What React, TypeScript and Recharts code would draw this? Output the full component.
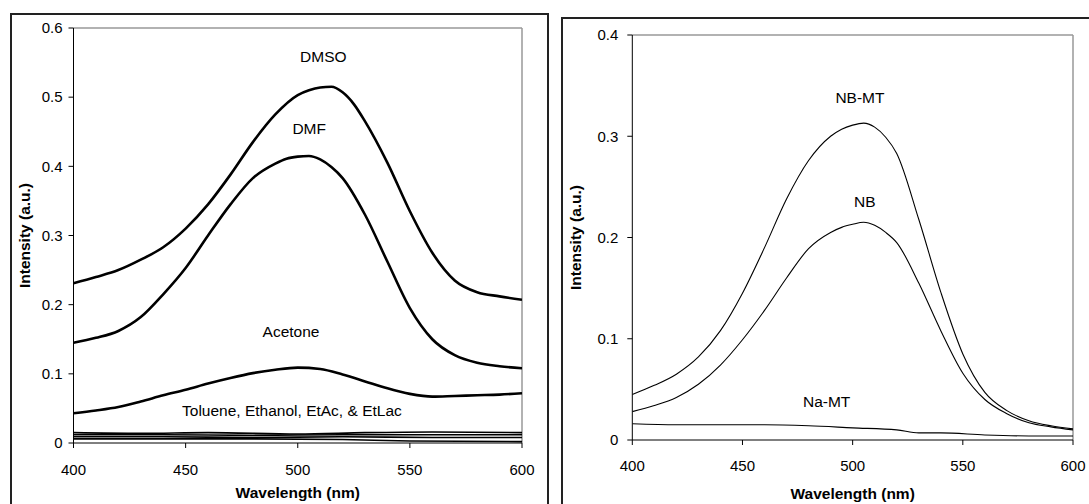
import React from "react";
import { LineChart, Line, XAxis, YAxis, ReferenceLine, ReferenceDot } from "recharts";

// left panel: solvents
const dmso = [
  { nm: 400, v: 0.231 }, { nm: 410, v: 0.24 }, { nm: 420, v: 0.25 }, { nm: 430, v: 0.265 },
  { nm: 440, v: 0.283 }, { nm: 450, v: 0.31 }, { nm: 460, v: 0.345 }, { nm: 470, v: 0.388 },
  { nm: 480, v: 0.435 }, { nm: 490, v: 0.475 }, { nm: 500, v: 0.503 }, { nm: 505, v: 0.51 },
  { nm: 510, v: 0.514 }, { nm: 515, v: 0.515 }, { nm: 520, v: 0.507 }, { nm: 525, v: 0.49 },
  { nm: 530, v: 0.465 }, { nm: 540, v: 0.405 }, { nm: 550, v: 0.335 }, { nm: 560, v: 0.275 },
  { nm: 570, v: 0.235 }, { nm: 580, v: 0.218 }, { nm: 590, v: 0.212 }, { nm: 600, v: 0.207 },
];
const dmf = [
  { nm: 400, v: 0.145 }, { nm: 410, v: 0.152 }, { nm: 420, v: 0.162 }, { nm: 430, v: 0.182 },
  { nm: 440, v: 0.215 }, { nm: 450, v: 0.253 }, { nm: 460, v: 0.3 }, { nm: 470, v: 0.345 },
  { nm: 480, v: 0.383 }, { nm: 490, v: 0.404 }, { nm: 495, v: 0.411 }, { nm: 500, v: 0.414 },
  { nm: 505, v: 0.415 }, { nm: 510, v: 0.41 }, { nm: 515, v: 0.399 }, { nm: 520, v: 0.383 },
  { nm: 530, v: 0.33 }, { nm: 540, v: 0.262 }, { nm: 550, v: 0.195 }, { nm: 560, v: 0.15 },
  { nm: 570, v: 0.127 }, { nm: 580, v: 0.116 }, { nm: 590, v: 0.111 }, { nm: 600, v: 0.108 },
];
const acetone = [
  { nm: 400, v: 0.043 }, { nm: 410, v: 0.047 }, { nm: 420, v: 0.052 }, { nm: 430, v: 0.06 },
  { nm: 440, v: 0.069 }, { nm: 450, v: 0.077 }, { nm: 460, v: 0.086 }, { nm: 470, v: 0.094 },
  { nm: 480, v: 0.101 }, { nm: 490, v: 0.106 }, { nm: 500, v: 0.109 }, { nm: 510, v: 0.107 },
  { nm: 520, v: 0.099 }, { nm: 530, v: 0.089 }, { nm: 540, v: 0.079 }, { nm: 550, v: 0.071 },
  { nm: 560, v: 0.067 }, { nm: 570, v: 0.068 }, { nm: 580, v: 0.069 }, { nm: 590, v: 0.07 },
  { nm: 600, v: 0.072 },
];
const toluene = [
  { nm: 400, v: 0.015 }, { nm: 430, v: 0.014 }, { nm: 460, v: 0.015 }, { nm: 500, v: 0.013 },
  { nm: 530, v: 0.015 }, { nm: 560, v: 0.016 }, { nm: 600, v: 0.015 },
];
const ethanol = [
  { nm: 400, v: 0.012 }, { nm: 440, v: 0.012 }, { nm: 480, v: 0.011 }, { nm: 520, v: 0.012 },
  { nm: 560, v: 0.012 }, { nm: 600, v: 0.012 },
];
const etAc = [
  { nm: 400, v: 0.009 }, { nm: 440, v: 0.009 }, { nm: 480, v: 0.008 }, { nm: 520, v: 0.009 },
  { nm: 560, v: 0.008 }, { nm: 600, v: 0.008 },
];
const etLac = [
  { nm: 400, v: 0.006 }, { nm: 440, v: 0.006 }, { nm: 480, v: 0.006 }, { nm: 520, v: 0.005 },
  { nm: 550, v: 0.003 }, { nm: 600, v: 0.002 },
];

// right panel: clay samples
const nbMt = [
  { nm: 400, v: 0.045 }, { nm: 410, v: 0.054 }, { nm: 420, v: 0.065 }, { nm: 430, v: 0.082 },
  { nm: 440, v: 0.108 }, { nm: 450, v: 0.145 }, { nm: 460, v: 0.19 }, { nm: 470, v: 0.238 },
  { nm: 480, v: 0.276 }, { nm: 490, v: 0.3 }, { nm: 495, v: 0.307 }, { nm: 500, v: 0.311 },
  { nm: 505, v: 0.313 }, { nm: 510, v: 0.309 }, { nm: 515, v: 0.299 }, { nm: 520, v: 0.283 },
  { nm: 530, v: 0.218 }, { nm: 540, v: 0.146 }, { nm: 550, v: 0.085 }, { nm: 560, v: 0.047 },
  { nm: 570, v: 0.029 }, { nm: 580, v: 0.019 }, { nm: 590, v: 0.014 }, { nm: 600, v: 0.011 },
];
const nb = [
  { nm: 400, v: 0.028 }, { nm: 410, v: 0.034 }, { nm: 420, v: 0.042 }, { nm: 430, v: 0.055 },
  { nm: 440, v: 0.074 }, { nm: 450, v: 0.099 }, { nm: 460, v: 0.128 }, { nm: 470, v: 0.16 },
  { nm: 480, v: 0.189 }, { nm: 490, v: 0.205 }, { nm: 495, v: 0.21 }, { nm: 500, v: 0.213 },
  { nm: 505, v: 0.215 }, { nm: 510, v: 0.212 }, { nm: 515, v: 0.205 }, { nm: 520, v: 0.195 },
  { nm: 530, v: 0.155 }, { nm: 540, v: 0.108 }, { nm: 550, v: 0.066 }, { nm: 560, v: 0.04 },
  { nm: 570, v: 0.026 }, { nm: 580, v: 0.017 }, { nm: 590, v: 0.013 }, { nm: 600, v: 0.01 },
];
const naMt = [
  { nm: 400, v: 0.016 }, { nm: 420, v: 0.015 }, { nm: 440, v: 0.015 }, { nm: 460, v: 0.015 },
  { nm: 480, v: 0.014 }, { nm: 500, v: 0.012 }, { nm: 520, v: 0.01 }, { nm: 530, v: 0.007 },
  { nm: 540, v: 0.007 }, { nm: 560, v: 0.005 }, { nm: 580, v: 0.004 }, { nm: 600, v: 0.004 },
];

const xTicks = [400, 450, 500, 550, 600];
const leftYTicks = [0, 0.1, 0.2, 0.3, 0.4, 0.5, 0.6];
const rightYTicks = [0, 0.1, 0.2, 0.3, 0.4];

const leftNotes = [
  { text: "DMSO", nm: 511.4, v: 0.5595 },
  { text: "DMF", nm: 505.1, v: 0.455 },
  { text: "Acetone", nm: 497, v: 0.1605 },
  { text: "Toluene, Ethanol, EtAc, & EtLac", nm: 497.4, v: 0.0467 },
];
const rightNotes = [
  { text: "NB-MT", nm: 503.3, v: 0.338 },
  { text: "NB", nm: 505.5, v: 0.236 },
  { text: "Na-MT", nm: 488.2, v: 0.0377 },
];

const font = "'Liberation Sans', Arial, sans-serif";
const tickStyle = { fill: "#000", fontSize: 15, fontFamily: font };
const titleStyle = { fill: "#000", fontSize: 15.5, fontWeight: "bold", fontFamily: font };

function note(n: { text: string; nm: number; v: number }) {
  return (
    <ReferenceDot
      key={n.text}
      x={n.nm}
      y={n.v}
      r={0}
      stroke="none"
      fill="none"
      label={{ value: n.text, position: "center", fill: "#000", fontSize: 15.5, fontFamily: font }}
    />
  );
}

export default function App() {
  return (
    <div style={{ position: "absolute", left: 0, top: 0, width: 1089, height: 504, overflow: "hidden", background: "#fff", fontFamily: font }}>
      <div style={{ position: "absolute", left: 10, top: 13, width: 535, height: 520, border: "2px solid #222" }} />
      <div style={{ position: "absolute", left: 561, top: 17, width: 560, height: 520, border: "2px solid #222" }} />

      <div style={{ position: "absolute", left: 0, top: 0 }}>
        <LineChart width={548} height={504} margin={{ top: 28, right: 26, bottom: 0, left: 0 }}>
          <XAxis
            dataKey="nm"
            type="number"
            domain={[400, 600]}
            ticks={xTicks}
            height={61}
            tickSize={5}
            tickMargin={16}
            tick={tickStyle}
            stroke="#000"
            allowDataOverflow
            label={{ value: "Wavelength (nm)", position: "insideBottom", offset: 6, style: titleStyle }}
          />
          <YAxis
            type="number"
            domain={[0, 0.6]}
            ticks={leftYTicks}
            width={73.5}
            tickSize={5}
            tickMargin={6}
            tick={tickStyle}
            stroke="#000"
            allowDataOverflow
            tickFormatter={(v: number) => String(v)}
            label={{ value: "Intensity (a.u.)", angle: -90, position: "insideLeft", offset: 24, style: { ...titleStyle, textAnchor: "middle" } }}
          />
          <ReferenceLine y={0.6} stroke="#999" strokeWidth={1.5} />
          <ReferenceLine x={600} stroke="#999" strokeWidth={1.5} />
          <Line data={dmso} dataKey="v" type="monotone" stroke="#000" strokeWidth={2.6} dot={false} isAnimationActive={false} />
          <Line data={dmf} dataKey="v" type="monotone" stroke="#000" strokeWidth={2.6} dot={false} isAnimationActive={false} />
          <Line data={acetone} dataKey="v" type="monotone" stroke="#000" strokeWidth={2.6} dot={false} isAnimationActive={false} />
          <Line data={toluene} dataKey="v" type="monotone" stroke="#000" strokeWidth={1.6} dot={false} isAnimationActive={false} />
          <Line data={ethanol} dataKey="v" type="monotone" stroke="#000" strokeWidth={1.6} dot={false} isAnimationActive={false} />
          <Line data={etAc} dataKey="v" type="monotone" stroke="#000" strokeWidth={1.6} dot={false} isAnimationActive={false} />
          <Line data={etLac} dataKey="v" type="monotone" stroke="#000" strokeWidth={1.6} dot={false} isAnimationActive={false} />
          {leftNotes.map(note)}
        </LineChart>
      </div>

      <div style={{ position: "absolute", left: 555, top: 0 }}>
        <LineChart width={534} height={504} margin={{ top: 35, right: 16, bottom: 0, left: 0 }}>
          <XAxis
            dataKey="nm"
            type="number"
            domain={[400, 600]}
            ticks={xTicks}
            height={64}
            tickSize={5}
            tickMargin={15}
            tick={tickStyle}
            stroke="#000"
            allowDataOverflow
            label={{ value: "Wavelength (nm)", position: "insideBottom", offset: 5, style: titleStyle }}
          />
          <YAxis
            type="number"
            domain={[0, 0.4]}
            ticks={rightYTicks}
            width={77.3}
            tickSize={5}
            tickMargin={9}
            tick={tickStyle}
            stroke="#000"
            allowDataOverflow
            tickFormatter={(v: number) => String(v)}
            label={{ value: "Intensity (a.u.)", angle: -90, position: "insideLeft", offset: 20, style: { ...titleStyle, textAnchor: "middle" } }}
          />
          <ReferenceLine y={0.4} stroke="#999" strokeWidth={1.5} />
          <ReferenceLine x={600} stroke="#999" strokeWidth={1.5} />
          <Line data={nbMt} dataKey="v" type="monotone" stroke="#000" strokeWidth={1.1} dot={false} isAnimationActive={false} />
          <Line data={nb} dataKey="v" type="monotone" stroke="#000" strokeWidth={1.1} dot={false} isAnimationActive={false} />
          <Line data={naMt} dataKey="v" type="monotone" stroke="#000" strokeWidth={1.1} dot={false} isAnimationActive={false} />
          {rightNotes.map(note)}
        </LineChart>
      </div>
    </div>
  );
}
